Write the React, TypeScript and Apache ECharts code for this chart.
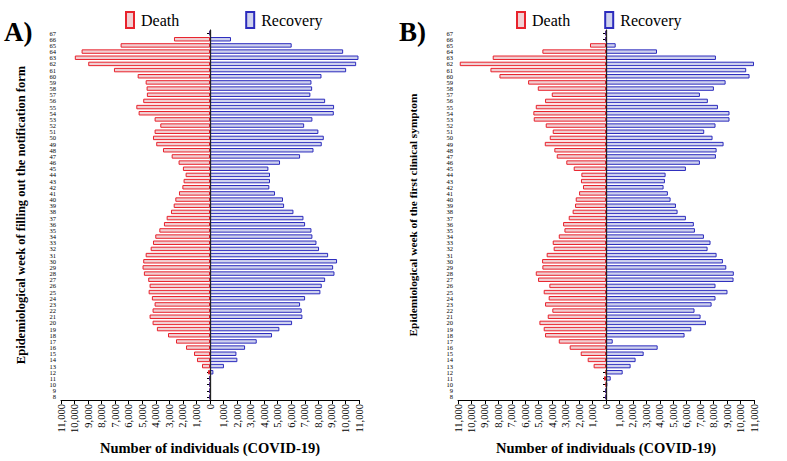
import React, { useEffect, useRef } from "react";
import * as echarts from "echarts";

const weeks = ["8","9","10","11","12","13","14","15","16","17","18","19","20","21","22","23","24","25","26","27","28","29","30","31","32","33","34","35","36","37","38","39","40","41","42","43","44","45","46","47","48","49","50","51","52","53","54","55","56","57","58","59","60","61","62","63","64","65","66","67"];

// Panel A (notification week), weeks 8..67
const deathA = [0,0,0,0,150,590,960,1180,1770,2510,3100,3920,4240,4460,4240,4090,4290,4530,4460,4560,4880,4980,4930,4750,4380,4210,4040,3740,3400,3200,2880,2680,2560,2290,2040,1950,1800,2000,2320,2830,3470,3970,4210,4090,3670,4090,5270,5440,4930,4660,4680,4750,5340,7090,8990,9980,9480,6600,2660,0];
const recoveryA = [0,0,0,0,250,1030,2020,1950,2590,3450,4580,5120,6060,6820,6770,6650,7020,8150,8250,8500,9190,9090,9380,8720,8050,7860,7560,7490,7020,6900,6160,5470,5390,4800,4380,4430,4430,4310,5170,6650,7640,8250,8400,8000,6950,7560,9140,9160,8500,7410,7540,7490,8230,10050,10790,10960,9830,6030,1550,0];

// Panel B (first clinical symptom week), weeks 8..67
const deathB = [0,0,0,150,0,920,1360,1880,2700,3510,4530,4630,4950,4330,3990,4530,4260,4630,4210,5050,5220,4730,4750,4410,3890,3960,3510,3090,3190,2770,2480,2300,2250,2000,1710,1860,1830,2400,2950,3660,3840,4550,4180,3960,4480,5370,5400,5220,4530,4030,5070,5790,7920,8590,10870,8420,4730,1190,70,0];
const recoveryB = [0,0,100,350,1240,1830,2200,2800,3840,500,5840,6340,7430,7030,6580,7850,8140,9030,8140,9480,9500,8940,8690,8220,7550,7770,7280,6610,6530,5940,5320,5200,4800,4600,4280,4380,4430,5940,6980,8170,8220,8740,7920,7300,8140,9180,9180,8320,7570,6980,8020,8890,10670,10420,11000,8170,3790,720,0,0];

const xTitle = "Number of individuals (COVID-19)";
const yTitleA = "Epidemiological week of filling out the notification form";
const yTitleB = "Epidemiological week of the first clinical symptom";

const SERIF = "'Liberation Serif', 'Times New Roman', serif";
const RED = "#e8222c";
const BLUE = "#2b2bbd";
const RED_FILL = "#f1d0d3";
const BLUE_FILL = "#cfd2ee";

function fmt(v: number) {
  return Math.abs(v).toLocaleString("en-US");
}

export default function App() {
  const ref = useRef<HTMLDivElement>(null);
  useEffect(() => {
    if (!ref.current) return;
    const chart = echarts.init(ref.current, undefined, { renderer: "svg" });
    const xAxisBase = (gridIndex: number) => ({
      type: "value",
      gridIndex,
      min: -11000,
      max: 11000,
      interval: 1000,
      name: xTitle,
      nameLocation: "middle",
      nameGap: 40,
      nameTextStyle: { fontFamily: SERIF, fontWeight: "bold", fontSize: 14.5, color: "#000" },
      axisLine: { show: true, onZero: false, lineStyle: { color: "#000", width: 1 } },
      axisTick: { show: true, length: 4, lineStyle: { color: "#000" } },
      axisLabel: { rotate: 90, formatter: (v: number) => fmt(v), fontFamily: SERIF, fontSize: 10.5, color: "#000", margin: 4 },
      splitLine: { show: false },
    });
    const yAxisBase = (gridIndex: number, name: string, gap: number, size: number) => ({
      type: "category",
      gridIndex,
      data: weeks,
      name,
      nameLocation: "middle",
      nameGap: gap,
      nameTextStyle: { fontFamily: SERIF, fontWeight: "bold", fontSize: size, color: "#000" },
      axisLine: { show: true, lineStyle: { color: "#000", width: 1 } },
      axisTick: { show: true, length: 3, alignWithLabel: true, lineStyle: { color: "#000" } },
      axisLabel: { interval: 0, fontFamily: SERIF, fontSize: 6.5, lineHeight: 6, color: "#000", margin: 5 },
    });
    const barSeries = (name: string, data: number[], idx: number, neg: boolean) => ({
      type: "bar",
      name,
      xAxisIndex: idx,
      yAxisIndex: idx,
      data: neg ? data.map((v) => -v) : data,
      barWidth: "72%",
      barGap: "-100%",
      itemStyle: {
        color: neg ? RED_FILL : BLUE_FILL,
        borderColor: neg ? RED : BLUE,
        borderWidth: 1,
      },
    });
    const zeroLine = {
      silent: true,
      symbol: "none",
      label: { show: false },
      lineStyle: { color: "#222", width: 1.3, type: "solid" },
      data: [{ xAxis: 0 }],
    };
    const sA1: any = barSeries("Death", deathA, 0, true);
    const sA2: any = barSeries("Recovery", recoveryA, 0, false);
    sA2.markLine = zeroLine;
    const sB1: any = barSeries("Death", deathB, 1, true);
    const sB2: any = barSeries("Recovery", recoveryB, 1, false);
    sB2.markLine = zeroLine;

    const legendBase = (left: number, gap: number) => ({
      left,
      top: 6,
      orient: "horizontal",
      itemWidth: 8,
      itemHeight: 16,
      itemGap: gap,
      icon: "rect",
      selectedMode: false,
      textStyle: { fontFamily: SERIF, fontSize: 16, color: "#000", padding: [0, 0, 0, 2] },
      data: ["Death", "Recovery"],
    });

    chart.setOption({
      animation: false,
      backgroundColor: "#fff",
      grid: [
        { left: 61, top: 30, width: 298, height: 370, containLabel: false },
        { left: 458, top: 30, width: 296, height: 370, containLabel: false },
      ],
      legend: [legendBase(120, 66), legendBase(511, 34)],
      xAxis: [xAxisBase(0), xAxisBase(1)],
      yAxis: [yAxisBase(0, yTitleA, 34, 12.5), yAxisBase(1, yTitleB, 40, 11.3)],
      series: [sA1, sA2, sB1, sB2],
      graphic: [
        { type: "text", left: 4, top: 18, style: { text: "A)", font: `bold 27px ${SERIF}`, fill: "#000" } },
        { type: "text", left: 399, top: 18, style: { text: "B)", font: `bold 27px ${SERIF}`, fill: "#000" } },
      ],
    });
    return () => chart.dispose();
  }, []);
  return <div ref={ref} style={{ position: "fixed", left: 0, top: 0, width: 787, height: 461 }} />;
}
